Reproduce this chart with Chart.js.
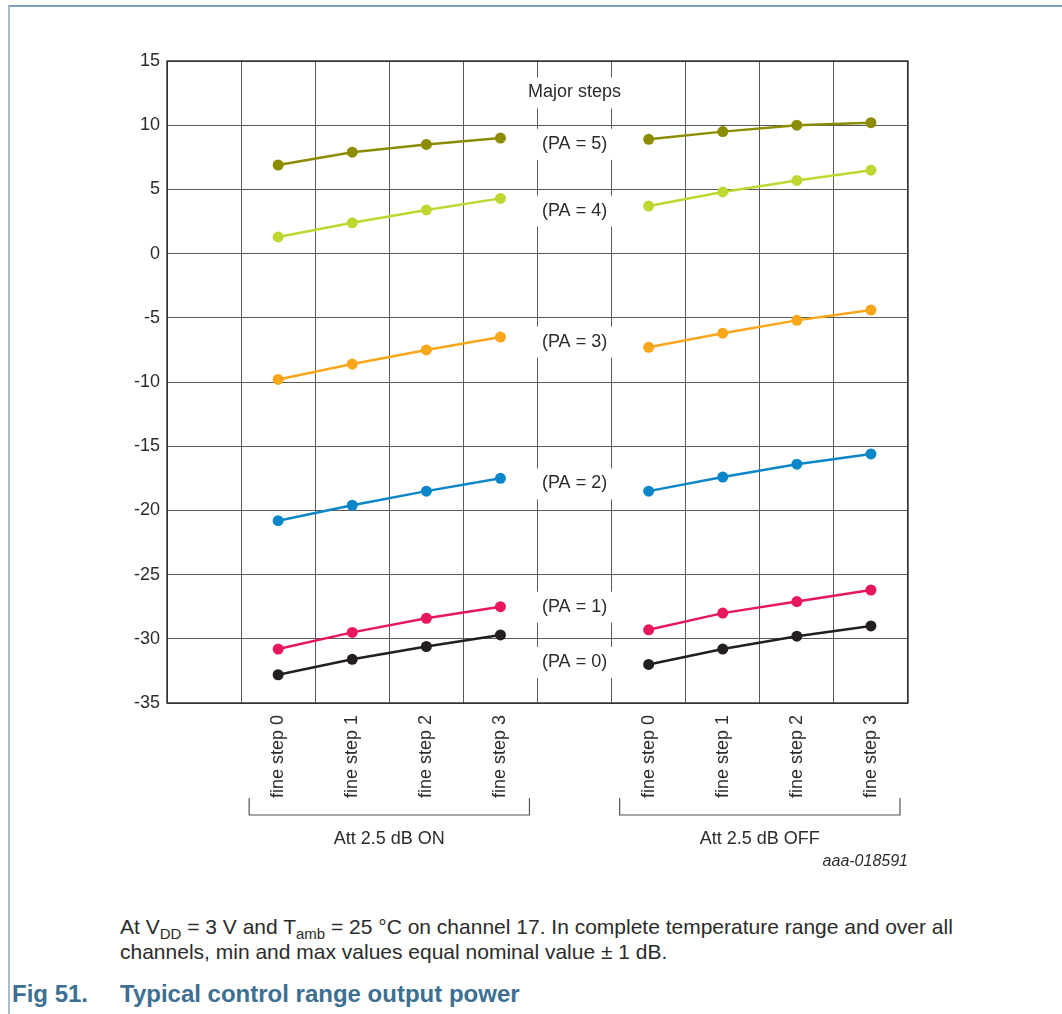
<!DOCTYPE html>
<html>
<head>
<meta charset="utf-8">
<title>Typical control range output power</title>
<script src="https://cdn.jsdelivr.net/npm/chart.js"></script>
<style>
  body { margin: 0; background: #fff; font-family: Arial, "Liberation Sans", sans-serif; color: #2b2b2b; }
  #page { position: relative; width: 1062px; height: 1014px; overflow: hidden; }
  #frame { position: absolute; left: 8px; top: 5px; width: 1062px; height: 1014px;
           border-top: 2px solid #7f9fb9; border-left: 2px solid #a9bccc; }
  #chart { position: absolute; left: 0; top: 0; }
  .note { position: absolute; left: 120px; font-size: 21px; line-height: 25px; color: #2b2b2b; white-space: nowrap; }
  .note sub { font-size: 15px; vertical-align: -5px; line-height: 0; }
  .fig { position: absolute; top: 980px; font-size: 24px; font-weight: bold; color: #3d6f93; white-space: nowrap; }
</style>
</head>
<body>
<div id="page">
  <div id="frame"></div>
  <canvas id="chart" width="1062" height="900"></canvas>
  <div class="note" style="top:914px">At V<sub>DD</sub> = 3 V and T<sub>amb</sub> = 25 °C on channel 17. In complete temperature range and over all<br>channels, min and max values equal nominal value ± 1 dB.</div>
  <div class="fig" style="left:12px">Fig 51.</div>
  <div class="fig" style="left:120px">Typical control range output power</div>
</div>
<script>
// categories: empty column, 4 fine steps (att ON), empty column, 4 fine steps (att OFF)
const categories = ['', 'fine step 0', 'fine step 1', 'fine step 2', 'fine step 3',
                    '', 'fine step 0', 'fine step 1', 'fine step 2', 'fine step 3'];

const pa5 = [null, 6.9, 7.9, 8.5, 9.0, null, 8.9, 9.5, 10.0, 10.2];
const pa4 = [null, 1.3, 2.4, 3.4, 4.3, null, 3.7, 4.8, 5.7, 6.5];
const pa3 = [null, -9.8, -8.6, -7.5, -6.5, null, -7.3, -6.2, -5.2, -4.4];
const pa2 = [null, -20.8, -19.6, -18.5, -17.5, null, -18.5, -17.4, -16.4, -15.6];
const pa1 = [null, -30.8, -29.5, -28.4, -27.5, null, -29.3, -28.0, -27.1, -26.2];
const pa0 = [null, -32.8, -31.6, -30.6, -29.7, null, -32.0, -30.8, -29.8, -29.0];

const seriesNames = ['PA = 5', 'PA = 4', 'PA = 3', 'PA = 2', 'PA = 1', 'PA = 0'];
const seriesColors = ['#8c8c00', '#bfd730', '#f9a61a', '#0a86c9', '#e8175d', '#231f20'];

// labels in the middle column and the value where each sits
const midLabels = ['Major steps', '(PA = 5)', '(PA = 4)', '(PA = 3)', '(PA = 2)', '(PA = 1)', '(PA = 0)'];
const midLabelY = [12.55, 8.55, 3.35, -6.85, -17.9, -27.5, -31.8];

const groupLabels = ['Att 2.5 dB ON', 'Att 2.5 dB OFF'];
const groupRanges = [[1, 4], [6, 9]];

const FONT = 'Arial, "Liberation Sans", sans-serif';
const TEXT = '#2b2b2b';

const extras = {
  id: 'extras',
  afterDraw(chart) {
    const { ctx, chartArea: a, scales: { x, y } } = chart;
    ctx.save();
    // middle column labels over white boxes
    const cx = x.getPixelForValue(5);
    ctx.font = '18px ' + FONT;
    ctx.textAlign = 'center';
    ctx.textBaseline = 'middle';
    midLabels.forEach((t, i) => {
      const py = y.getPixelForValue(midLabelY[i]);
      ctx.fillStyle = '#fff';
      ctx.fillRect(cx - 45, py - 15, 90, 31);
      ctx.fillStyle = TEXT;
      ctx.fillText(t, cx, py);
    });
    // chart frame
    ctx.strokeStyle = '#1e1e1e';
    ctx.lineWidth = 1.3;
    ctx.strokeRect(a.left, a.top, a.right - a.left, a.bottom - a.top);
    // brackets and group labels
    ctx.strokeStyle = '#555';
    ctx.lineWidth = 1.2;
    const by = a.bottom + 112;
    groupRanges.forEach((r, i) => {
      const x0 = x.getPixelForValue(r[0]) - 29;
      const x1 = x.getPixelForValue(r[1]) + 29;
      ctx.beginPath();
      ctx.moveTo(x0, by - 17);
      ctx.lineTo(x0, by);
      ctx.lineTo(x1, by);
      ctx.lineTo(x1, by - 17);
      ctx.stroke();
      ctx.fillStyle = TEXT;
      ctx.textBaseline = 'middle';
      ctx.fillText(groupLabels[i], (x0 + x1) / 2, by + 24);
    });
    ctx.font = 'italic 16px ' + FONT;
    ctx.textAlign = 'right';
    ctx.fillText('aaa-018591', a.right, by + 47);
    ctx.restore();
  }
};

new Chart(document.getElementById('chart'), {
  type: 'line',
  data: {
    labels: categories,
    datasets: [pa5, pa4, pa3, pa2, pa1, pa0].map((d, i) => ({
      label: seriesNames[i],
      data: d,
      borderColor: seriesColors[i],
      backgroundColor: seriesColors[i],
      borderWidth: 2.5,
      pointRadius: 5.5,
      pointBorderWidth: 0,
      spanGaps: false,
      tension: 0
    }))
  },
  options: {
    responsive: false,
    animation: false,
    layout: { padding: { left: 0, top: 61, right: 154, bottom: 0 } },
    plugins: { legend: { display: false }, tooltip: { enabled: false } },
    scales: {
      x: {
        offset: true,
        grid: { offset: true, color: '#5a5a5a', lineWidth: 1, drawTicks: false },
        border: { display: false },
        ticks: {
          autoSkip: false, minRotation: 90, maxRotation: 90, padding: 12,
          color: TEXT, font: { family: FONT, size: 18 }
        },
        afterFit(s) { s.height = 197; }
      },
      y: {
        min: -35, max: 15,
        grid: { color: '#5a5a5a', lineWidth: 1, drawTicks: false },
        border: { display: false },
        ticks: { stepSize: 5, padding: 7, color: TEXT, font: { family: FONT, size: 18 } },
        afterFit(s) { s.width = 167; }
      }
    }
  },
  plugins: [extras]
});
</script>
</body>
</html>
